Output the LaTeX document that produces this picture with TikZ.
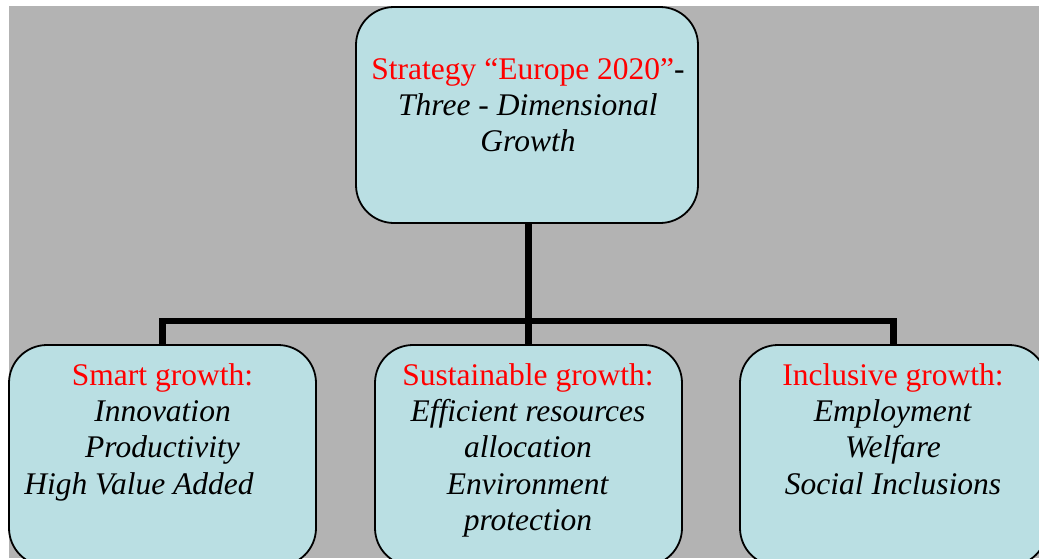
\documentclass[tikz,border=0pt]{standalone}
\usepackage{fontspec}
\setmainfont{Liberation Serif}
\definecolor{panelgray}{RGB}{179,179,179}
\definecolor{boxfill}{RGB}{186,223,227}
\definecolor{headred}{RGB}{255,0,0}
\begin{document}
\begin{tikzpicture}[x=1pt,y=-1pt,
  box/.style={draw=black,line width=1.8pt,fill=boxfill,rounded corners=38pt,
    minimum width=307pt,minimum height=221pt,inner sep=0pt},
  boxtext/.style={anchor=north,inner sep=0pt,align=center,
    font=\fontsize{31.5}{36.4}\selectfont},
  link/.style={line width=6.5pt,line join=miter,line cap=butt}]
  \useasboundingbox (0,0) rectangle (1039,558);
  \clip (0,0) rectangle (1039,558);
  % grey panel
  \fill[panelgray] (9,6) rectangle (1039,558);

  % boxes
  \node[box,minimum width=342pt,minimum height=216pt] (top) at (527,115) {};
  \node[box] (smart) at (162.5,455.5) {};
  \node[box] (sust) at (528.5,455.5) {};
  \node[box] (incl) at (893.5,455.5) {};
  \coordinate (bus) at (528.5,321);

  % connectors
  \draw[link] (top.south -| sust.north) -- (sust.north);
  \draw[link] (smart.north) -- (smart.north |- bus) -- (incl.north |- bus) -- (incl.north);

  % texts
  \node[boxtext] (toptext) at (528,53.5)
    {\strut{\color{headred}Strategy “Europe 2020”}-\\
     \textit{Three - Dimensional}\\
     \textit{Growth}};
  \node[boxtext] (smarttext) at (162.5,359.5)
    {\strut{\color{headred}Smart growth:}\\
     \textit{Innovation}\\
     \textit{Productivity}\\
     \textit{High Value Added}\hspace*{47pt}};
  \node[boxtext] (susttext) at (528,359.5)
    {\strut{\color{headred}Sustainable growth:}\\
     \textit{Efficient resources}\\
     \textit{allocation}\\
     \textit{Environment}\\
     \textit{protection}};
  \node[boxtext] (incltext) at (893,359.5)
    {\strut{\color{headred}Inclusive growth:}\\
     \textit{Employment}\\
     \textit{Welfare}\\
     \textit{Social Inclusions}};
\end{tikzpicture}
\end{document}
